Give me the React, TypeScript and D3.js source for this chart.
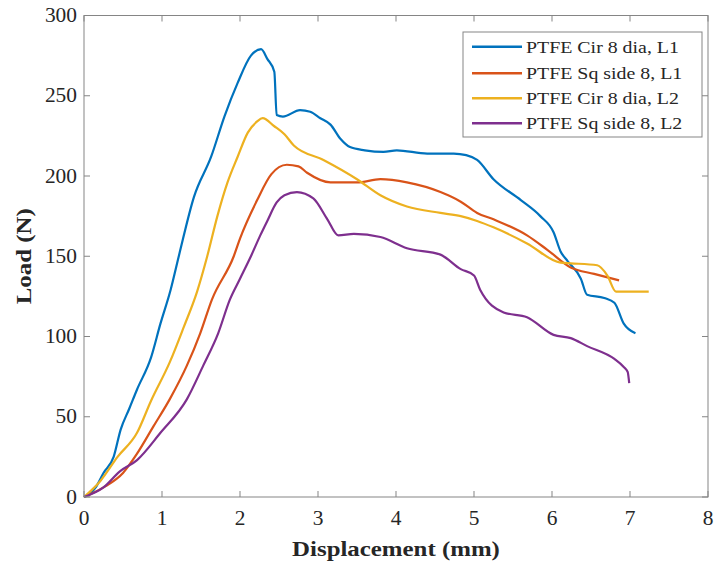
import React from "react";
import * as d3 from "d3";

const xTicks = [0, 1, 2, 3, 4, 5, 6, 7, 8];
const yTicks = [0, 50, 100, 150, 200, 250, 300];

const seriesNames = [
  "PTFE Cir 8 dia, L1",
  "PTFE Sq side 8, L1",
  "PTFE Cir 8 dia, L2",
  "PTFE Sq side 8, L2",
];
const seriesColors = ["#0072BD", "#D95319", "#EDB120", "#7E2F8E"];

const cirL1X = [0, 0.05, 0.15, 0.25, 0.38, 0.47, 0.58, 0.68, 0.86, 0.98, 1.11, 1.22, 1.41, 1.63, 1.8, 1.97, 2.14, 2.27, 2.35, 2.44, 2.47, 2.55, 2.77, 2.9, 3.03, 3.16, 3.29, 3.41, 3.6, 3.84, 4.01, 4.4, 4.74, 4.9, 5.04, 5.25, 5.6, 5.85, 6.02, 6.11, 6.2, 6.37, 6.45, 6.67, 6.8, 6.92, 7.07];
const cirL1Y = [0, 1, 6, 15, 25, 42, 55, 67, 87, 108, 129, 151, 187, 212, 237, 258, 275, 279, 273, 265, 238, 237, 241, 240, 236, 232, 223, 218, 216, 215, 216, 214, 214, 213, 210, 198, 185, 175, 165, 153, 147, 136, 126, 124, 121, 108, 102];

const sqL1X = [0, 0.25, 0.5, 0.68, 0.89, 1.1, 1.32, 1.49, 1.64, 1.92, 2.0, 2.22, 2.4, 2.6, 2.75, 2.86, 3.16, 3.5, 3.8, 4.14, 4.57, 4.83, 5.04, 5.25, 5.68, 5.94, 6.24, 6.54, 6.86];
const sqL1Y = [0, 6, 15, 27, 44, 61, 82, 102, 123, 150, 161, 185, 201, 207, 206, 202, 196, 196, 198, 196, 190, 184, 177, 173, 163, 154, 143, 139, 135];

const cirL2X = [0, 0.21, 0.43, 0.68, 0.86, 1.1, 1.28, 1.45, 1.58, 1.71, 1.84, 1.97, 2.1, 2.22, 2.29, 2.44, 2.57, 2.69, 3.07, 3.5, 3.8, 4.14, 4.57, 4.83, 5.04, 5.25, 5.68, 6.11, 6.24, 6.58, 6.71, 6.82, 7.24];
const cirL2Y = [0, 10, 25, 40, 60, 84, 106, 128, 150, 175, 196, 212, 227, 234, 236, 231, 226, 219, 210, 198, 188, 181, 177, 175, 172, 168, 158, 146, 145.6, 144.4, 138, 128, 128];

const sqL2X = [0, 0.25, 0.46, 0.68, 0.98, 1.32, 1.53, 1.72, 1.87, 2.0, 2.14, 2.26, 2.35, 2.47, 2.57, 2.73, 2.94, 3.12, 3.26, 3.46, 3.8, 4.14, 4.57, 4.83, 5.0, 5.08, 5.38, 5.68, 6.02, 6.24, 6.45, 6.8, 6.92, 6.97, 6.99];
const sqL2Y = [0, 6, 16, 23, 40, 61, 82, 102, 123, 136, 150, 163, 172, 183.5, 188, 190, 186, 173, 163, 164, 162, 155, 151, 142, 138, 129, 115, 112, 101, 99, 94, 86, 81, 78, 71];

const seriesX = [cirL1X, sqL1X, cirL2X, sqL2X];
const seriesY = [cirL1Y, sqL1Y, cirL2Y, sqL2Y];

const W = 714;
const H = 570;
const L = 84, R = 708, T = 15.5, B = 497;
const FONT = "'Liberation Serif', 'Times New Roman', serif";
const AXIS = "#858585";
const TXT = "#262626";

function SText(props: {
  x: number; y: number; sx?: number; anchor?: string; size: number;
  weight?: string; rotate?: number; children: React.ReactNode; fill?: string;
}) {
  const { x, y, sx = 1, anchor = "start", size, weight = "normal", rotate, children, fill = TXT } = props;
  const tr = `translate(${x},${y})${rotate ? ` rotate(${rotate})` : ""} scale(${sx},1)`;
  return (
    <text transform={tr} textAnchor={anchor} fontSize={size} fontWeight={weight} fontFamily={FONT} fill={fill}>
      {children}
    </text>
  );
}

export default function App() {
  const x = d3.scaleLinear().domain([0, 8]).range([L, R]);
  const y = d3.scaleLinear().domain([0, 300]).range([B, T]);
  const line = d3
    .line<[number, number]>()
    .x((d) => x(d[0]))
    .y((d) => y(d[1]))
    .curve(d3.curveMonotoneX);

  const tickLen = 6;
  const legX = 463, legY = 32, legW = 239, legH = 105;
  const rowY = [46.7, 73.3, 98.3, 123.3];

  return (
    <svg width={W} height={H} style={{ position: "absolute", left: 0, top: 0, background: "#fff" }}>
      <rect x={0} y={0} width={W} height={H} fill="#fff" />
      {seriesX.map((xs, i) => {
        const pts = xs.map((v, j) => [v, seriesY[i][j]] as [number, number]);
        return (
          <path key={i} d={line(pts) || ""} fill="none" stroke={seriesColors[i]} strokeWidth={2.2} strokeLinejoin="round" />
        );
      })}
      <rect x={L} y={T} width={R - L} height={B - T} fill="none" stroke={AXIS} strokeWidth={1} />
      {xTicks.map((t) => (
        <g key={"x" + t}>
          <line x1={x(t)} x2={x(t)} y1={B} y2={B - tickLen} stroke={AXIS} />
          <line x1={x(t)} x2={x(t)} y1={T} y2={T + tickLen} stroke={AXIS} />
          <SText x={x(t)} y={525} sx={1.07} anchor="middle" size={20}>{t}</SText>
        </g>
      ))}
      {yTicks.map((t) => (
        <g key={"y" + t}>
          <line x1={L} x2={L + tickLen} y1={y(t)} y2={y(t)} stroke={AXIS} />
          <line x1={R} x2={R - tickLen} y1={y(t)} y2={y(t)} stroke={AXIS} />
          <SText x={77} y={y(t) + 6.5} sx={1.07} anchor="end" size={20}>{t}</SText>
        </g>
      ))}
      <SText x={(L + R) / 2} y={556} sx={1.13} anchor="middle" size={22} weight="bold">Displacement (mm)</SText>
      <SText x={31} y={(T + B) / 2} sx={1.13} anchor="middle" size={22} weight="bold" rotate={-90}>Load (N)</SText>
      <rect x={legX} y={legY} width={legW} height={legH} fill="#fff" stroke={AXIS} strokeWidth={1} />
      {seriesNames.map((n, i) => (
        <g key={n}>
          <line x1={472} x2={522} y1={rowY[i]} y2={rowY[i]} stroke={seriesColors[i]} strokeWidth={2.5} />
          <SText x={526} y={rowY[i] + 6} sx={1.13} size={17.6}>{n}</SText>
        </g>
      ))}
    </svg>
  );
}
